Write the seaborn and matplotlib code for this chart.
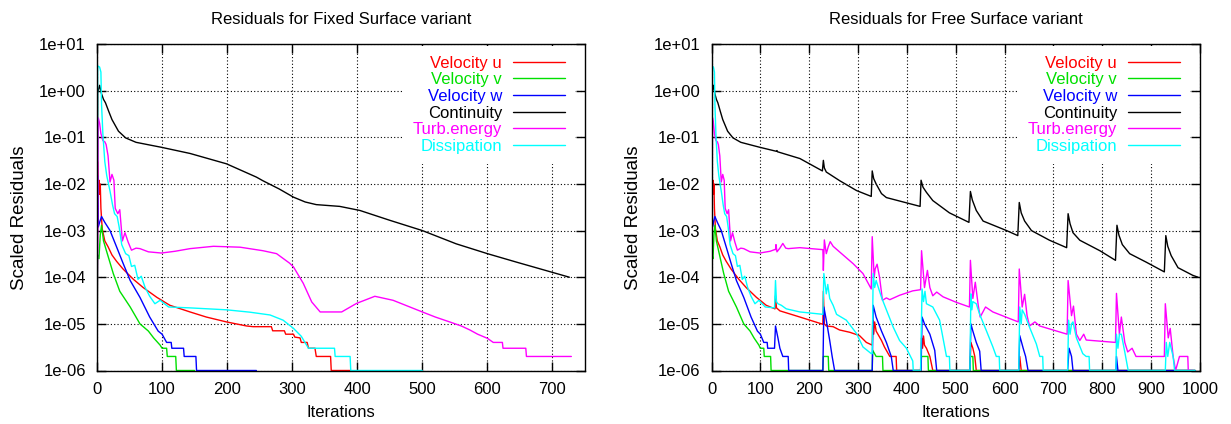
import matplotlib
matplotlib.use('Agg')
import numpy as np
import pandas as pd
import seaborn as sns
import matplotlib.pyplot as plt
from matplotlib.ticker import FixedLocator, FuncFormatter, NullLocator

NAMES = ['Velocity u', 'Velocity v', 'Velocity w', 'Continuity', 'Turb.energy', 'Dissipation']
COLORS = ['#ff0000', '#00e000', '#0000ff', '#000000', '#ff00ff', '#00ffff']

TITLES = ['Residuals for Fixed Surface variant', 'Residuals for Free Surface variant']
X_MAX = [750, 1000]
X_TICKS = [list(range(0, 701, 100)), list(range(0, 1001, 100))]
Y_TICKS = [1e-6, 1e-5, 1e-4, 1e-3, 1e-2, 1e-1, 1e0, 1e1]

# (iteration, residual) pairs
# start-up phase, the same in both variants
U_START = [(0, 1e-6), (1, 3e-2), (2, 8e-3), (3, 1.2e-2), (4, 6e-3), (5, 1e-2), (6, 3e-3),
           (8, 1.1e-3), (12, 6e-4), (17, 4.5e-4), (23, 3e-4), (30, 2.2e-4), (40, 1.5e-4),
           (56, 9e-5), (71, 6e-5), (92, 3.7e-5), (112, 2.5e-5)]
V_START = [(0, 1e-6), (1, 3e-4), (3, 2.5e-4), (5, 8e-4), (7, 1.3e-3), (10, 6e-4), (15, 3.5e-4),
           (25, 1.2e-4), (35, 5e-5), (51, 2.3e-5), (66, 1e-5), (79, 7e-6), (87, 5e-6),
           (97, 3.5e-6), (100, 3e-6), (107, 3e-6), (108, 2e-6), (121, 2e-6), (122, 1e-6)]
W_START = [(0, 1e-6), (1, 1.5e-2), (2, 1.2e-3), (4, 1.5e-3), (7, 2e-3), (12, 1.5e-3), (20, 1e-3),
           (30, 4.5e-4), (40, 2e-4), (51, 8.5e-5), (66, 3.7e-5), (81, 1.4e-5), (94, 7e-6),
           (100, 6e-6), (107, 4e-6), (114, 4e-6), (115, 3e-6)]
C_START = [(0, 1e-6), (1, 0.9), (4, 1.3), (7, 0.85), (10, 0.65), (13, 0.55), (18, 0.36),
           (23, 0.24), (33, 0.135), (44, 0.097), (60, 0.078), (84, 0.067), (99, 0.061)]
T_START = [(0, 1e-6), (2, 0.26), (4, 0.2), (6, 0.12), (9, 0.085), (12, 0.08), (14, 0.07),
           (17, 0.04), (20, 0.011), (23, 0.016), (26, 0.012), (28, 3e-3), (32, 2.3e-3),
           (35, 2.8e-3), (39, 6e-4), (43, 9e-4), (48, 5.6e-4), (53, 3.8e-4), (60, 4.2e-4),
           (66, 4.1e-4), (79, 3.5e-4), (99, 3.3e-4), (120, 3.6e-4)]
D_START = [(0, 1e-6), (1, 3.4), (4, 3.2), (6, 2.5), (7, 0.5), (9, 0.12), (12, 0.03),
           (15, 0.015), (20, 7e-3), (24, 3.5e-3), (27, 2.3e-3), (31, 2e-3), (34, 1.2e-3),
           (38, 5e-4), (44, 3.2e-4), (49, 2.9e-4), (53, 1.7e-4), (58, 1.8e-4), (63, 9e-5),
           (68, 1.05e-4), (74, 6e-5), (81, 3.9e-5), (89, 2.7e-5), (97, 3.2e-5), (110, 2.3e-5)]

# fixed surface variant, after start-up
U_FIXED = [(143, 1.8e-5), (168, 1.4e-5), (199, 1.1e-5), (230, 9e-6), (240, 8.7e-6), (268, 8.7e-6),
           (270, 7.1e-6), (288, 7.1e-6), (290, 6e-6), (302, 6e-6), (304, 5.2e-6), (312, 5e-6),
           (314, 4e-6), (323, 4e-6), (325, 3e-6), (335, 3e-6), (337, 2e-6), (359, 2e-6),
           (360, 1e-6), (390, 1e-6)]
V_FIXED = [(150, 1e-6)]
W_FIXED = [(133, 3e-6), (134, 2e-6), (152, 2e-6), (153, 1e-6), (245, 1e-6)]
C_FIXED = [(143, 0.045), (199, 0.027), (245, 0.014), (255, 0.0117), (280, 0.0078), (302, 0.0052),
           (320, 0.0041), (337, 0.0036), (373, 0.0033), (404, 0.0027), (450, 0.00166),
           (500, 0.001), (552, 5.2e-4), (600, 3.2e-4), (645, 2.1e-4), (726, 1e-4)]
T_FIXED = [(143, 4.1e-4), (179, 4.6e-4), (220, 4.4e-4), (255, 3.7e-4), (276, 3.2e-4), (296, 2e-4),
           (302, 1.66e-4), (317, 7.4e-5), (330, 2.95e-5), (343, 1.8e-5), (376, 1.8e-5),
           (399, 2.75e-5), (427, 3.9e-5), (455, 3.2e-5), (500, 1.8e-5), (520, 1.4e-5),
           (542, 1.1e-5), (560, 9e-6), (573, 7.4e-6), (585, 6e-6), (600, 4.9e-6), (609, 4e-6),
           (623, 4e-6), (624, 3e-6), (659, 3e-6), (660, 2e-6), (729, 2e-6)]
D_FIXED = [(143, 2.2e-5), (199, 2e-5), (235, 1.78e-5), (266, 1.55e-5), (286, 1.2e-5), (302, 8e-6),
           (314, 5.4e-6), (325, 3e-6), (365, 3e-6), (366, 2e-6), (389, 2e-6), (390, 1e-6),
           (500, 1e-6)]

# free surface variant, after start-up (surface update every 100 iterations)
U_FREE = [(125, 2.2e-5), (130, 2.1e-5), (131, 4e-5), (133, 2.2e-5), (140, 1.9e-5), (181, 1.4e-5),
          (228, 9.8e-6), (229, 5e-5), (231, 1e-5), (235, 9e-6), (249, 8.7e-6), (262, 7.4e-6),
          (283, 6.6e-6), (303, 5.6e-6), (317, 4e-6), (329, 3.5e-6), (330, 1.2e-5), (332, 6e-6),
          (334, 1.1e-5), (337, 7e-6), (348, 4.4e-6), (354, 3.2e-6), (365, 2e-6), (378, 2e-6),
          (379, 1e-6), (428, 1e-6), (430, 5e-6), (432, 3e-6), (434, 5.5e-6), (436, 3.5e-6),
          (440, 3e-6), (447, 2e-6), (453, 1e-6), (529, 1e-6), (531, 4e-6), (535, 3e-6),
          (539, 2e-6), (542, 1e-6), (629, 1e-6), (631, 2e-6), (634, 1e-6), (990, 1e-6)]
V_FREE = [(228, 1e-6), (229, 2e-6), (239, 2e-6), (240, 1e-6), (329, 1e-6), (330, 2.7e-6),
          (337, 2e-6), (350, 2e-6), (351, 1e-6), (428, 1e-6), (430, 2e-6), (443, 2e-6),
          (444, 1e-6), (529, 1e-6), (530, 2e-6), (535, 2e-6), (536, 1e-6), (990, 1e-6)]
W_FREE = [(129, 3e-6), (131, 9e-6), (136, 5e-6), (140, 3e-6), (146, 2e-6), (157, 2e-6),
          (158, 1e-6), (228, 1e-6), (230, 2.3e-5), (235, 1.2e-5), (242, 4.4e-6), (247, 2e-6),
          (252, 1e-6), (329, 1e-6), (331, 2.5e-5), (337, 1.4e-5), (348, 7e-6), (358, 4e-6),
          (368, 2e-6), (372, 1e-6), (429, 1e-6), (431, 1.4e-5), (436, 1e-5), (447, 6e-6),
          (457, 2.7e-6), (461, 1e-6), (529, 1e-6), (531, 1e-5), (535, 7e-6), (542, 4e-6),
          (549, 2.6e-6), (552, 1e-6), (629, 1e-6), (631, 5.6e-6), (638, 3e-6), (643, 2e-6),
          (648, 1e-6), (729, 1e-6), (732, 3e-6), (737, 2e-6), (740, 1e-6), (828, 1e-6),
          (829, 2e-6), (832, 1e-6), (990, 1e-6)]
C_FREE = [(133, 0.05), (134, 0.052), (135, 0.049), (181, 0.035), (227, 0.019), (229, 0.032),
          (231, 0.022), (235, 0.018), (262, 0.0118), (297, 0.0072), (327, 0.0054), (329, 0.019),
          (332, 0.013), (337, 0.01), (348, 0.0062), (358, 0.0051), (385, 0.0043), (427, 0.0033),
          (429, 0.012), (433, 0.0085), (440, 0.0066), (453, 0.0044), (487, 0.0024),
          (527, 0.0015), (530, 0.0069), (534, 0.0045), (542, 0.0027), (556, 0.0016),
          (604, 0.001), (627, 7.8e-4), (630, 4e-3), (634, 2.4e-3), (641, 1.6e-3), (655, 1e-3),
          (692, 6.2e-4), (727, 4.3e-4), (730, 2.3e-3), (734, 1.4e-3), (740, 9e-4), (754, 6.2e-4),
          (795, 3.7e-4), (827, 2.3e-4), (830, 1.3e-3), (834, 8e-4), (841, 5e-4), (856, 3.2e-4),
          (890, 2.1e-4), (927, 1.3e-4), (930, 7.8e-4), (934, 4.6e-4), (941, 2.9e-4),
          (955, 1.6e-4), (985, 1.1e-4), (996, 1e-4)]
T_FREE = [(129, 3.9e-4), (131, 3.9e-4), (132, 5e-4), (134, 3.5e-4), (140, 4.2e-4), (146, 5.3e-4),
          (152, 4.2e-4), (157, 4.1e-4), (181, 4.3e-4), (228, 3.9e-4), (229, 1.4e-4), (231, 6.3e-4),
          (235, 3.2e-4), (239, 4.5e-4), (243, 5.8e-4), (249, 4.6e-4), (262, 3.5e-4), (290, 1.95e-4),
          (310, 1.2e-4), (327, 5.6e-5), (329, 7.4e-4), (333, 1e-4), (335, 1.5e-4), (339, 1.9e-4),
          (344, 1e-4), (350, 3.2e-5), (358, 3.6e-5), (365, 3.3e-5), (385, 4.1e-5), (412, 5.1e-5),
          (428, 5.4e-5), (430, 3.7e-4), (436, 6e-5), (442, 1.4e-4), (447, 6e-5), (453, 4e-5),
          (461, 4.8e-5), (474, 3.8e-5), (501, 2.9e-5), (528, 2.3e-5), (530, 2.3e-4), (535, 3.5e-5),
          (540, 7.8e-5), (546, 2.5e-5), (550, 1.4e-5), (561, 2.3e-5), (576, 1.8e-5), (628, 1.1e-5),
          (630, 1.5e-4), (636, 2.3e-5), (641, 4.3e-5), (646, 1.5e-5), (651, 9e-6), (662, 1.1e-5),
          (672, 9e-6), (728, 6e-6), (730, 8.5e-5), (737, 1.5e-5), (741, 2.4e-5), (747, 6e-6),
          (754, 4.4e-6), (762, 6e-6), (767, 4.5e-6), (827, 4e-6), (829, 4.5e-5), (835, 6e-6),
          (839, 1.4e-5), (846, 4e-6), (852, 2.5e-6), (861, 3e-6), (869, 2e-6), (927, 2e-6),
          (929, 2.7e-5), (935, 5e-6), (939, 8e-6), (945, 2e-6), (950, 1e-6), (958, 2e-6),
          (975, 2e-6), (976, 1e-6), (985, 1e-6)]
D_FREE = [(129, 2.2e-5), (131, 8.5e-5), (133, 3e-5), (136, 2.7e-5), (143, 2.5e-5), (153, 2.1e-5),
          (181, 1.8e-5), (228, 1.6e-5), (230, 1.2e-4), (235, 4.4e-5), (238, 7e-5), (242, 3.5e-5),
          (249, 2.5e-5), (256, 1.6e-5), (276, 1.2e-5), (297, 6.2e-6), (310, 3.2e-6), (327, 2.3e-6),
          (329, 2.3e-6), (331, 1.2e-4), (334, 6e-5), (337, 8.5e-5), (348, 3.7e-5), (358, 2e-5),
          (372, 8.5e-6), (385, 4.4e-6), (399, 3e-6), (412, 1.6e-6), (413, 1e-6), (428, 1e-6),
          (431, 5.6e-5), (434, 3e-5), (437, 5e-5), (440, 2.7e-5), (453, 2.3e-5), (467, 1.2e-5),
          (481, 2e-6), (487, 2e-6), (488, 1e-6), (529, 1e-6), (531, 4.4e-5), (533, 2e-5),
          (535, 3e-5), (542, 2.7e-5), (549, 1.6e-5), (563, 7e-6), (576, 3.2e-6), (583, 2e-6),
          (589, 2e-6), (590, 1e-6), (629, 1e-6), (631, 2.3e-5), (634, 1e-5), (636, 2e-5),
          (641, 1.6e-5), (651, 8.5e-6), (665, 3.7e-6), (672, 2e-6), (678, 2e-6), (679, 1e-6),
          (729, 1e-6), (731, 1.2e-5), (734, 6e-6), (737, 1e-5), (740, 1.1e-5), (747, 5e-6),
          (760, 2.3e-6), (767, 2e-6), (773, 2e-6), (774, 1e-6), (828, 1e-6), (829, 6e-6),
          (832, 3e-6), (835, 6e-6), (839, 6e-6), (846, 2.5e-6), (853, 1e-6), (929, 1e-6),
          (931, 4e-6), (934, 2e-6), (938, 4e-6), (945, 2e-6), (948, 1e-6), (990, 1e-6)]

STARTS = [U_START, V_START, W_START, C_START, T_START, D_START]
FIXED = [U_FIXED, V_FIXED, W_FIXED, C_FIXED, T_FIXED, D_FIXED]
FREE = [U_FREE, V_FREE, W_FREE, C_FREE, T_FREE, D_FREE]


def panel_frame(tails):
    rows = []
    for name, start, tail in zip(NAMES, STARTS, tails):
        for it, res in start + tail:
            rows.append((name, it, res))
    return pd.DataFrame(rows, columns=['series', 'iteration', 'residual'])


sns.set_theme(style='ticks', rc={
    'axes.edgecolor': 'black', 'axes.labelcolor': 'black', 'text.color': 'black',
    'xtick.color': 'black', 'ytick.color': 'black', 'axes.linewidth': 1.0,
})
plt.rcParams['font.family'] = ['Liberation Sans', 'DejaVu Sans']
plt.rcParams['font.size'] = 12

fig = plt.figure(figsize=(12.31, 4.24), dpi=100)
axes = [fig.add_axes([97 / 1231, 53.5 / 424, 488 / 1231, 326.5 / 424]),
        fig.add_axes([711.5 / 1231, 53.5 / 424, 488.5 / 1231, 326.5 / 424])]

for ax, tails, title, xmax, xticks in zip(axes, [FIXED, FREE], TITLES, X_MAX, X_TICKS):
    df = panel_frame(tails)
    sns.lineplot(data=df, x='iteration', y='residual', hue='series', hue_order=NAMES,
                 palette=COLORS, estimator=None, sort=False, linewidth=1.0,
                 legend=False, ax=ax)
    ax.set_yscale('log')
    ax.set_xlim(0, xmax)
    ax.set_ylim(1e-6, 1e1)
    ax.xaxis.set_major_locator(FixedLocator(xticks))
    ax.yaxis.set_major_locator(FixedLocator(Y_TICKS))
    ax.yaxis.set_minor_locator(NullLocator())
    ax.yaxis.set_major_formatter(FuncFormatter(lambda v, pos: f'{v:.0e}'))
    ax.tick_params(axis='both', which='major', direction='in', length=6.5, width=1,
                   top=True, right=True, labelsize=12)
    ax.tick_params(axis='x', pad=8)
    ax.tick_params(axis='y', pad=8)
    ax.set_axisbelow(True)
    ax.grid(True, which='major', color='black', linestyle=(0, (1, 2)), linewidth=0.8)
    for side in ax.spines.values():
        side.set_visible(True)
        side.set_color('black')
        side.set_linewidth(1.0)

    ax.set_title(title, fontsize=12, pad=14.5)
    ax.set_xlabel('Iterations', fontsize=12)
    ax.set_ylabel('Scaled Residuals', fontsize=13.5)
    ax.xaxis.set_label_coords(0.5, -0.107)
    ax.yaxis.set_label_coords(-0.1414, 0.469)

    leg = ax.legend(ax.lines[:len(NAMES)], NAMES, loc='upper right',
                    bbox_to_anchor=(0.98, 0.995), borderaxespad=0, borderpad=0.6,
                    markerfirst=False, labelcolor='linecolor', fontsize=12,
                    handlelength=3.12, handletextpad=0.66, labelspacing=0.1,
                    frameon=True, fancybox=False, framealpha=1)
    leg.get_frame().set_facecolor('white')
    leg.get_frame().set_edgecolor('none')

fig.savefig('out.png', dpi=100)
